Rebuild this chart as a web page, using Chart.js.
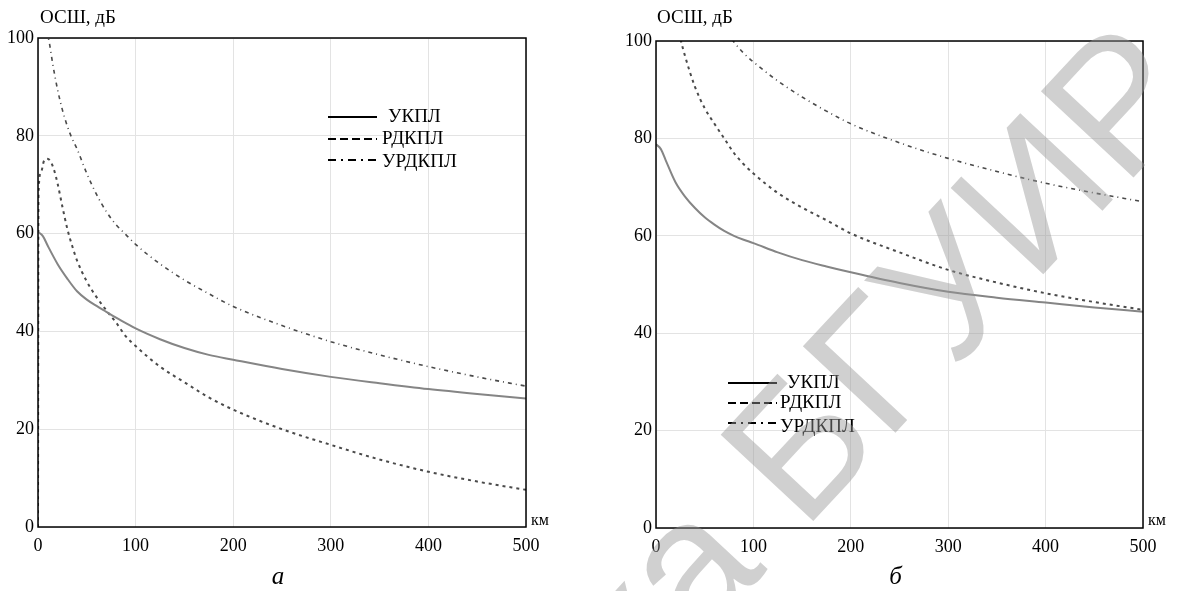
<!DOCTYPE html>
<html>
<head>
<meta charset="utf-8">
<script src="https://cdn.jsdelivr.net/npm/chart.js@4.4.1/dist/chart.umd.min.js"></script>
<style>
body { margin: 0; background: #fff; }
#wrap { position: relative; width: 1182px; height: 591px; }
canvas { position: absolute; top: 0; }
#ctx { left: 0; }
#ctx2 { left: 591px; }
</style>
</head>
<body>
<div id="wrap">
<canvas id="ctx" width="591" height="591"></canvas>
<canvas id="ctx2" width="591" height="591"></canvas>
</div>
<script>
// series names
var names = ["УКПЛ", "РДКПЛ", "УРДКПЛ"];
var xTicks = [0, 100, 200, 300, 400, 500];
var yTicks = [0, 20, 40, 60, 80, 100];

// chart а
var kmA = [0, 5, 10, 20, 30, 40, 50, 60, 70, 80, 90, 100, 125, 150, 175, 200, 250, 300, 350, 400, 450, 500];
var ukplA = [60.3, 59.5, 57.5, 53.8, 50.8, 48.2, 46.5, 45.2, 44.0, 42.8, 41.7, 40.6, 38.4, 36.6, 35.2, 34.2, 32.3, 30.7, 29.4, 28.2, 27.2, 26.3];
var kmRdA = [0, 0.5, 3, 6, 9, 12, 16, 20, 25, 30, 35, 40, 50, 60, 70, 80, 90, 100, 125, 150, 175, 200, 250, 300, 350, 400, 450, 500];
var rdkplA = [0, 68, 72.5, 74.8, 75.3, 75.0, 73.3, 70.3, 65.5, 61, 57.5, 54.5, 50.2, 47, 44.3, 41.8, 39, 37, 32.8, 29.6, 26.5, 24, 20, 16.8, 13.8, 11.3, 9.3, 7.6];
var kmUrA = [7, 9, 12, 15, 20, 25, 30, 35, 40, 50, 60, 70, 80, 90, 100, 125, 150, 175, 200, 250, 300, 350, 400, 450, 500];
var urdkplA = [104, 101.5, 98.6, 94.8, 89.5, 85.3, 82, 79.4, 77.3, 72.3, 68, 64.5, 61.8, 59.8, 57.8, 53.8, 50.5, 47.7, 45.1, 41.2, 37.9, 35.2, 32.8, 30.7, 28.8];

// chart б
var kmB = [0, 5, 10, 20, 30, 40, 50, 60, 70, 80, 90, 100, 125, 150, 175, 200, 250, 300, 350, 400, 450, 500];
var ukplB = [78.8, 77.8, 75.5, 71, 68, 65.7, 63.8, 62.3, 61, 60, 59.2, 58.5, 56.6, 55, 53.7, 52.5, 50.3, 48.5, 47.3, 46.3, 45.3, 44.4];
var kmRdB = [20, 25, 30, 40, 50, 60, 70, 80, 90, 100, 125, 150, 175, 200, 250, 300, 350, 400, 450, 500];
var rdkplB = [106, 100.6, 96.8, 90.6, 86.2, 83, 80, 77, 74.7, 72.8, 68.8, 65.8, 63.2, 60.5, 56.6, 53.0, 50.4, 48.2, 46.4, 44.8];
var kmUrB = [70, 80, 90, 100, 125, 150, 175, 200, 250, 300, 350, 400, 450, 500];
var urdkplB = [102.5, 99.8, 97.5, 95.7, 91.8, 88.5, 85.6, 83.0, 79.1, 75.9, 73.2, 70.8, 68.8, 67.0];

var serif = "'Liberation Serif', 'Times New Roman', serif";

function pts(xs, ys) {
    return xs.map(function (x, i) { return { x: x, y: ys[i] }; });
}

function sets(a, b, c) {
    return [
        { label: names[0], data: a, borderColor: '#858585', borderWidth: 2, pointRadius: 0, cubicInterpolationMode: 'monotone' },
        { label: names[1], data: b, borderColor: '#4a4a4a', borderWidth: 2, borderDash: [3, 4], pointRadius: 0, cubicInterpolationMode: 'monotone' },
        { label: names[2], data: c, borderColor: '#4a4a4a', borderWidth: 1.6, borderDash: [4, 4, 1, 4], pointRadius: 0, cubicInterpolationMode: 'monotone' }
    ];
}

var legendDash = [[], [8, 4], [8, 5, 2, 5]];

var extras = {
    id: 'extras',
    afterDatasetsDraw: function (chart) {
        var a = chart.chartArea, c = chart.ctx;
        c.save();
        c.strokeStyle = '#000';
        c.lineWidth = 1.5;
        c.strokeRect(a.left, a.top, a.right - a.left, a.bottom - a.top);
        c.restore();
    },
    afterDraw: function (chart, args, o) {
        var c = chart.ctx, a = chart.chartArea;
        c.save();
        c.fillStyle = '#000';
        c.textBaseline = 'middle';
        c.font = '19px ' + serif;
        c.fillText('ОСШ, дБ', o.titleX, 18);
        c.font = '16px ' + serif;
        c.fillText('км', a.right + 5, 521);
        c.font = 'italic 25px ' + serif;
        c.textAlign = 'center';
        c.fillText(o.caption, (a.left + a.right) / 2 - 4, 577);
        // legend
        c.textAlign = 'left';
        c.font = '19px ' + serif;
        for (var i = 0; i < 3; i++) {
            c.beginPath();
            c.setLineDash(legendDash[i]);
            c.lineWidth = 2;
            c.strokeStyle = '#000';
            c.moveTo(o.lx, o.ly[i]);
            c.lineTo(o.lx + 49, o.ly[i]);
            c.stroke();
            c.fillText(names[i], o.tx[i], o.ty[i]);
        }
        c.setLineDash([]);
        if (o.mark) {
            c.translate(o.mark.x, o.mark.y);
            c.rotate(-47 * Math.PI / 180);
            c.fillStyle = 'rgba(150,150,150,0.45)';
            c.font = '184px "Liberation Sans", sans-serif';
            c.textBaseline = 'alphabetic';
            c.textAlign = 'left';
            c.fillText('БГУИР', 0, 0);
            c.textAlign = 'right';
            c.fillText('Библиотека ', 0, 0);
        }
        c.restore();
    }
};

function makeChart(id, datasets, yWidth, xHeight, pad, ex) {
    var gridColor = '#e3e3e3';
    return new Chart(document.getElementById(id).getContext('2d'), {
        type: 'line',
        data: { datasets: datasets },
        options: {
            responsive: false,
            animation: false,
            layout: { padding: pad },
            plugins: { legend: { display: false }, tooltip: { enabled: false }, extras: ex },
            scales: {
                x: {
                    type: 'linear', min: 0, max: 500,
                    afterBuildTicks: function (s) { s.ticks = xTicks.map(function (v) { return { value: v }; }); },
                    afterFit: function (s) { s.height = xHeight; s.paddingLeft = 0; s.paddingRight = 0; },
                    grid: { color: gridColor, drawTicks: false },
                    border: { display: false },
                    ticks: { color: '#000', padding: 8, maxRotation: 0, font: { family: serif, size: 18 } }
                },
                y: {
                    min: 0, max: 100,
                    afterBuildTicks: function (s) { s.ticks = yTicks.map(function (v) { return { value: v }; }); },
                    afterFit: function (s) { s.width = yWidth; s.paddingTop = 0; s.paddingBottom = 0; },
                    grid: { color: gridColor, drawTicks: false },
                    border: { display: false },
                    ticks: { color: '#000', padding: 4, font: { family: serif, size: 18 } }
                }
            }
        },
        plugins: [extras]
    });
}

var chartA = makeChart('ctx',
    sets(pts(kmA, ukplA), pts(kmRdA, rdkplA), pts(kmUrA, urdkplA)),
    38, 64, { left: 0, top: 38, right: 65, bottom: 0 },
    { titleX: 40, caption: 'а', lx: 328, ly: [117, 139, 160], tx: [388, 382, 382], ty: [117, 139, 162] });

var chartB = makeChart('ctx2',
    sets(pts(kmB, ukplB), pts(kmRdB, rdkplB), pts(kmUrB, urdkplB)),
    65, 63, { left: 0, top: 41, right: 39, bottom: 0 },
    { titleX: 66, caption: 'б', lx: 137, ly: [383, 403, 423], tx: [196, 189, 189], ty: [383, 403, 427], mark: { x: 212, y: 532 } });
</script>
</body>
</html>
